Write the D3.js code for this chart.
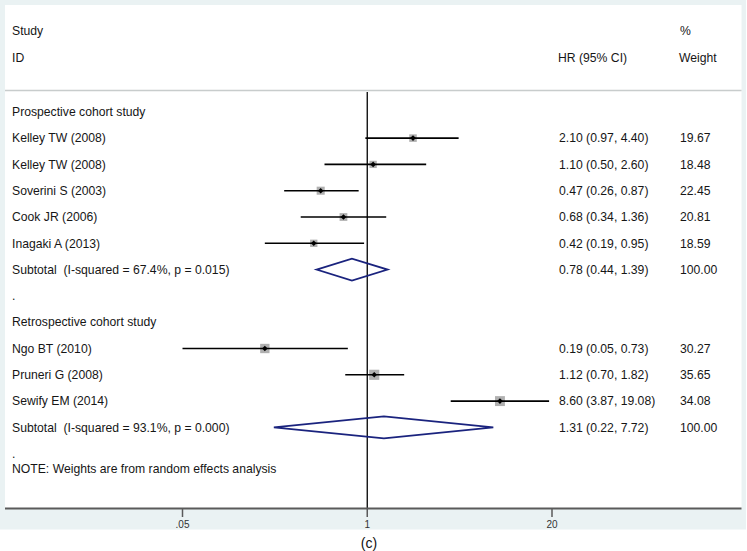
<!DOCTYPE html>
<html>
<head>
<meta charset="utf-8">
<script src="https://cdn.jsdelivr.net/npm/d3@7"></script>
<style>
  html, body { margin: 0; padding: 0; background: #ffffff; }
  svg { display: block; font-family: "Liberation Sans", Arial, sans-serif; }
  svg text { white-space: pre; }
</style>
</head>
<body>
<svg id="chart" width="747" height="551"></svg>
<script>
// ---------------- data ----------------
const groupTitles = ["Prospective cohort study", "Retrospective cohort study"];

const prosStudies = ["Kelley TW (2008)", "Kelley TW (2008)", "Soverini S (2003)", "Cook JR (2006)", "Inagaki A (2013)"];
const prosHR      = [2.10, 1.10, 0.47, 0.68, 0.42];
const prosLo      = [0.97, 0.50, 0.26, 0.34, 0.19];
const prosHi      = [4.40, 2.60, 0.87, 1.36, 0.95];
const prosWeight  = [19.67, 18.48, 22.45, 20.81, 18.59];
const prosSubtotal = { hr: 0.78, lo: 0.44, hi: 1.39, i2: "67.4%", p: "0.015", weight: 100.00 };

const retroStudies = ["Ngo BT (2010)", "Pruneri G (2008)", "Sewify EM (2014)"];
const retroHR      = [0.19, 1.12, 8.60];
const retroLo      = [0.05, 0.70, 3.87];
const retroHi      = [0.73, 1.82, 19.08];
const retroWeight  = [30.27, 35.65, 34.08];
const retroSubtotal = { hr: 1.31, lo: 0.22, hi: 7.72, i2: "93.1%", p: "0.000", weight: 100.00 };

const tickValues = [0.05, 1, 20];
const tickLabels = [".05", "1", "20"];
const noteText = "NOTE: Weights are from random effects analysis";
const captionText = "(c)";

// ---------------- build rows ----------------
const rows = [];
function addGroup(title, names, hr, lo, hi, wt, sub) {
  rows.push({ type: "header", label: title });
  names.forEach((n, i) => rows.push({ type: "study", label: n, hr: hr[i], lo: lo[i], hi: hi[i], w: wt[i] }));
  rows.push({ type: "subtotal", label: `Subtotal  (I-squared = ${sub.i2}, p = ${sub.p})`, hr: sub.hr, lo: sub.lo, hi: sub.hi, w: sub.weight });
  rows.push({ type: "blank", label: "." });
}
addGroup(groupTitles[0], prosStudies, prosHR, prosLo, prosHi, prosWeight, prosSubtotal);
addGroup(groupTitles[1], retroStudies, retroHR, retroLo, retroHi, retroWeight, retroSubtotal);

// ---------------- layout ----------------
const svg = d3.select("#chart");
const panel = { x0: 5, x1: 741.5, y0: 5, y1: 508.5 };
const f2 = d3.format(".2f");

const x = d3.scaleLog().domain([0.05, 20]).range([182.5, 552]);
const y = d3.scaleLinear().domain([0, rows.length - 1]).range([111.8, 111.8 + (rows.length - 1) * 26.3]);

const textColor = "#161616";
const fs = 12.2;

// outer graph region
svg.append("rect").attr("x", 0).attr("y", 0).attr("width", 746).attr("height", 529.5).attr("fill", "#eaf2f3");
// plot region
svg.append("rect").attr("x", panel.x0).attr("y", panel.y0)
  .attr("width", panel.x1 - panel.x0).attr("height", panel.y1 - panel.y0).attr("fill", "#ffffff");

// separator
svg.append("line").attr("x1", panel.x0).attr("x2", panel.x1).attr("y1", 90.5).attr("y2", 90.5)
  .attr("stroke", "#c8cccc").attr("stroke-width", 1.5);

// column headers
const hdr = svg.append("g").attr("font-size", fs).attr("fill", textColor);
hdr.append("text").attr("x", 12).attr("y", 31).attr("dy", "0.35em").text("Study");
hdr.append("text").attr("x", 12).attr("y", 58).attr("dy", "0.35em").text("ID");
hdr.append("text").attr("x", 558).attr("y", 58).attr("dy", "0.35em").text("HR (95% CI)");
hdr.append("text").attr("x", 680).attr("y", 31).attr("dy", "0.35em").text("%");
hdr.append("text").attr("x", 679).attr("y", 58).attr("dy", "0.35em").text("Weight");

// reference line at 1
svg.append("line").attr("x1", x(1)).attr("x2", x(1)).attr("y1", 92).attr("y2", panel.y1)
  .attr("stroke", "#000").attr("stroke-width", 1.3);

// row labels and values
const rg = svg.append("g").attr("font-size", fs).attr("fill", textColor);
rows.forEach((r, i) => {
  const yy = y(i);
  rg.append("text").attr("x", 12).attr("y", yy).attr("dy", "0.35em").text(r.label);
  if (r.type === "study" || r.type === "subtotal") {
    rg.append("text").attr("x", 559).attr("y", yy).attr("dy", "0.35em")
      .text(`${f2(r.hr)} (${f2(r.lo)}, ${f2(r.hi)})`);
    rg.append("text").attr("x", 680).attr("y", yy).attr("dy", "0.35em").text(f2(r.w));
  }
});

// study marks
const mg = svg.append("g");
rows.forEach((r, i) => {
  const yy = y(i);
  if (r.type === "study") {
    const s = 1.7 * Math.sqrt(r.w);
    mg.append("rect").attr("x", x(r.hr) - s / 2).attr("y", yy - s / 2)
      .attr("width", s).attr("height", s).attr("fill", "#b0b0b0");
    mg.append("line").attr("x1", x(r.lo)).attr("x2", x(r.hi)).attr("y1", yy).attr("y2", yy)
      .attr("stroke", "#000").attr("stroke-width", 1.6);
    const d = 2.8;
    const cx = x(r.hr);
    mg.append("path").attr("d", `M${cx - d},${yy}L${cx},${yy - d}L${cx + d},${yy}L${cx},${yy + d}Z`)
      .attr("fill", "#000");
  } else if (r.type === "subtotal") {
    const h = 11;
    const cx = x(r.hr);
    mg.append("path")
      .attr("d", `M${x(r.lo)},${yy}L${cx},${yy - h}L${x(r.hi)},${yy}L${cx},${yy + h}Z`)
      .attr("fill", "none").attr("stroke", "#1a237e").attr("stroke-width", 1.8)
      .attr("stroke-linejoin", "miter");
  }
});

// note
svg.append("text").attr("x", 12).attr("y", 469).attr("dy", "0.35em")
  .attr("font-size", fs).attr("fill", textColor).text(noteText);

// x axis
const axisG = svg.append("g");
axisG.append("line").attr("x1", panel.x0).attr("x2", panel.x1).attr("y1", 508.5).attr("y2", 508.5)
  .attr("stroke", "#5a5a5a").attr("stroke-width", 2);
tickValues.forEach((t, i) => {
  axisG.append("line").attr("x1", x(t)).attr("x2", x(t)).attr("y1", 508.5).attr("y2", 517)
    .attr("stroke", "#5a5a5a").attr("stroke-width", 1.5);
  axisG.append("text").attr("x", x(t)).attr("y", 524.5).attr("dy", "0.35em")
    .attr("text-anchor", "middle").attr("font-size", 10).attr("fill", "#333").text(tickLabels[i]);
});

// caption
svg.append("text").attr("x", 369).attr("y", 543).attr("dy", "0.35em").attr("text-anchor", "middle")
  .attr("font-size", 14).attr("fill", "#111").text(captionText);
</script>
</body>
</html>
